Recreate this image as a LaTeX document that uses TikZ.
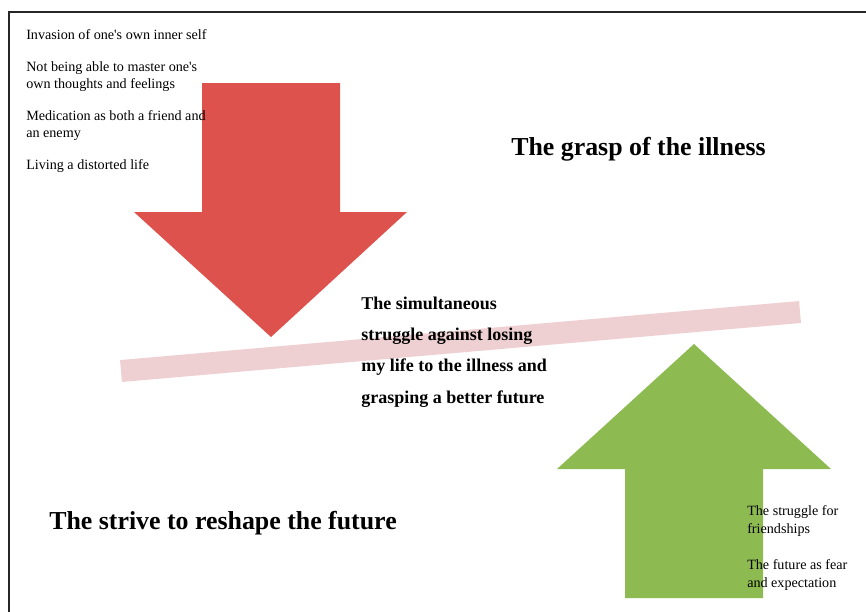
\documentclass[tikz,border=0pt]{standalone}
\usepackage{fontspec}
\setmainfont{Liberation Serif}
\definecolor{illred}{RGB}{221,82,76}
\definecolor{futgreen}{RGB}{141,187,82}
\definecolor{bandpink}{RGB}{239,208,210}
\tikzset{
  item/.style={anchor=base west,inner sep=0pt,align=left,font=\fontsize{10.6}{12.2}\selectfont},
  theme/.style={anchor=base west,inner sep=0pt,font=\fontsize{19.4}{22}\selectfont\bfseries},
  core/.style={anchor=base west,inner sep=0pt,align=left,font=\fontsize{13.5}{23.5}\selectfont\bfseries},
}
\newcommand{\apos}{\textquotesingle}
\begin{document}
\begin{tikzpicture}[x=.75pt,y=-.75pt,line join=miter]
  \useasboundingbox (0,0) rectangle (866,611);
  % frame
  \draw[line width=1.1pt,black!85] (9,620) |- (870,12);
  % balance band
  \coordinate (bl) at (121,371);
  \coordinate (br) at (800,312);
  \draw[bandpink,line width=16.5pt] (bl)--(br);
  % the two arrows
  \coordinate (redtip) at (271,337);
  \coordinate (greentip) at (694,344);
  \fill[illred] (redtip)--(407,212)--(340,212)--(340,83)--(202,83)--(202,212)--(134,212)--cycle;
  \fill[futgreen] (greentip)--(831,469)--(763,469)--(763,598)--(625,598)--(625,469)--(557,469)--cycle;
  % texts (base = last line)
  \node[item] (invasion) at (26,39) {Invasion of one\apos s own inner self};
  \node[item] (master) at (26,88) {Not being able to master one\apos s\\own thoughts and feelings};
  \node[item] (medication) at (26,137) {Medication as both a friend and\\an enemy};
  \node[item] (distorted) at (26,169) {Living a distorted life};
  \node[theme] (grasp) at (511,155) {The grasp of the illness};
  \node[theme] (strive) at (49,529) {The strive to reshape the future};
  \node[core] (struggle) at (361,403) {The simultaneous\\struggle against losing\\my life to the illness and\\grasping a better future};
  \node[item,font=\fontsize{10.6}{12.8}\selectfont] (friends) at (747,533) {The struggle for\\friendships};
  \node[item,font=\fontsize{10.6}{12.8}\selectfont] (fear) at (747,587) {The future as fear\\and expectation};
\end{tikzpicture}
\end{document}
